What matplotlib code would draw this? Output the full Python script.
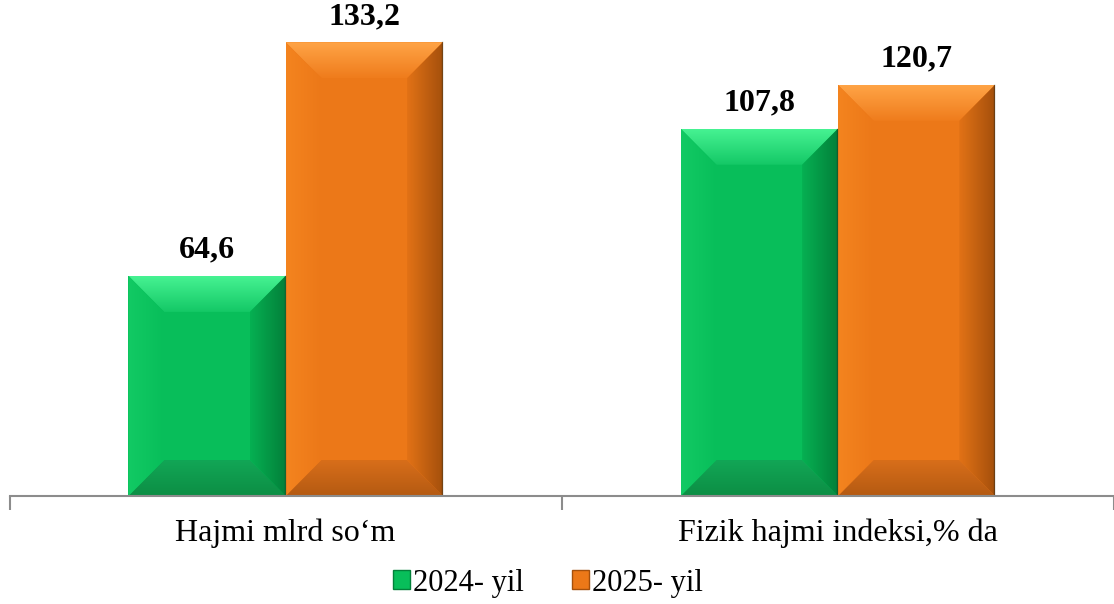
import matplotlib.pyplot as plt
from matplotlib.patches import Polygon, Patch
from matplotlib.colors import to_rgb
import numpy as np

plt.rcParams['font.family'] = ['Liberation Serif', 'DejaVu Serif']

categories = ["Hajmi mlrd so\u2018m", "Fizik hajmi indeksi,% da"]
series_names = ["2024- yil", "2025- yil"]
values_2024 = [64.6, 107.8]
values_2025 = [133.2, 120.7]
labels_2024 = ["64,6", "107,8"]
labels_2025 = ["133,2", "120,7"]

# face, top (outer, inner), left (outer, inner), right (inner, outer), bottom (inner, outer)
shades = {
    "2024- yil": dict(face="#08BE5A", top=("#46F292", "#14C866"), left=("#12CA64", "#08BE5A"),
                      right=("#06B052", "#03803A"), bottom=("#12A656", "#0C8E44")),
    "2025- yil": dict(face="#EC7818", top=("#FFA446", "#EF7C1C"), left=("#F4841F", "#EC7818"),
                      right=("#E27216", "#A5500C"), bottom=("#D86E1A", "#B45A12")),
}

fig = plt.figure(figsize=(11.14, 6.04), dpi=100)
ax = fig.add_axes([9.5 / 1114, 108 / 604, 1104.5 / 1114, 494 / 604])

x = np.arange(len(categories))
w = 0.2846
px_x = 1 / 557.0
px_y = 1 / 3.408
bev = 36


def grad_poly(pts, c0, c1, vertical, extent):
    # gradient from c0 to c1 (bottom->top if vertical, left->right otherwise)
    t = np.linspace(0, 1, 64)
    cols = np.outer(1 - t, to_rgb(c0)) + np.outer(t, to_rgb(c1))
    img = cols[:, None, :] if vertical else cols[None, :, :]
    poly = Polygon(pts, closed=True, facecolor="none", edgecolor="none", transform=ax.transData)
    ax.add_patch(poly)
    im = ax.imshow(img, extent=extent, origin="lower", aspect="auto", zorder=3,
                   interpolation="bilinear")
    im.set_clip_path(poly)


def bevel_bars(bars, sh):
    for b in bars:
        b.set_facecolor(sh["face"])
        b.set_edgecolor("none")
        x0, y0 = b.get_x(), b.get_y()
        x1, y1 = x0 + b.get_width(), y0 + b.get_height()
        dx, dy = bev * px_x, bev * px_y
        grad_poly([(x0, y1), (x1, y1), (x1 - dx, y1 - dy), (x0 + dx, y1 - dy)],
                  sh["top"][1], sh["top"][0], True, (x0, x1, y1 - dy, y1))
        grad_poly([(x0, y0), (x1, y0), (x1 - dx, y0 + dy), (x0 + dx, y0 + dy)],
                  sh["bottom"][1], sh["bottom"][0], True, (x0, x1, y0, y0 + dy))
        grad_poly([(x0, y0), (x0, y1), (x0 + dx, y1 - dy), (x0 + dx, y0 + dy)],
                  sh["left"][0], sh["left"][1], False, (x0, x0 + dx, y0, y1))
        grad_poly([(x1, y0), (x1, y1), (x1 - dx, y1 - dy), (x1 - dx, y0 + dy)],
                  sh["right"][0], sh["right"][1], False, (x1 - dx, x1, y0, y1))
        ax.plot([x1 - 1 * px_x] * 2, [y0, y1], color="#2a2a1a", lw=1.0, alpha=0.45, zorder=4)


b1 = ax.bar(x - w / 2, values_2024, w, zorder=2)
b2 = ax.bar(x + w / 2, values_2025, w, zorder=2)
bevel_bars(b1, shades["2024- yil"])
bevel_bars(b2, shades["2025- yil"])

for bars, labs in ((b1, labels_2024), (b2, labels_2025)):
    for b, t in zip(bars, labs):
        ax.annotate(t, (b.get_x() + b.get_width() / 2, b.get_height()),
                    xytext=(0, 13), textcoords="offset points", ha="center", va="baseline",
                    fontsize=23, fontweight="bold")

ax.set_xlim(-0.5, 1.483)
ax.set_ylim(0, 145)
ax.set_yticks([])
ax.set_xticks([-0.5, 0.5, 1.5], minor=False)
ax.set_xticklabels([])
ax.set_xticks(x, minor=True)
ax.set_xticklabels(categories, minor=True, fontsize=23)
ax.tick_params(axis="x", which="major", length=10, width=1.5, color="#8c8c8c", direction="out")
ax.tick_params(axis="x", which="minor", length=0, pad=16)
for s in ("top", "right", "left"):
    ax.spines[s].set_visible(False)
ax.spines["bottom"].set_color("#8c8c8c")
ax.spines["bottom"].set_linewidth(1.5)
ax.spines["bottom"].set_zorder(5)

handles = [Patch(facecolor=shades[n]["face"], edgecolor=shades[n]["right"][1], label=n)
           for n in series_names]
fig.legend(handles=handles, loc="center", bbox_to_anchor=(548 / 1114, 1 - 583 / 604),
           ncol=2, frameon=False, fontsize=22, handlelength=0.55, handleheight=0.55,
           handletextpad=0.1, columnspacing=1.6)

fig.savefig("out.png", dpi=100)
